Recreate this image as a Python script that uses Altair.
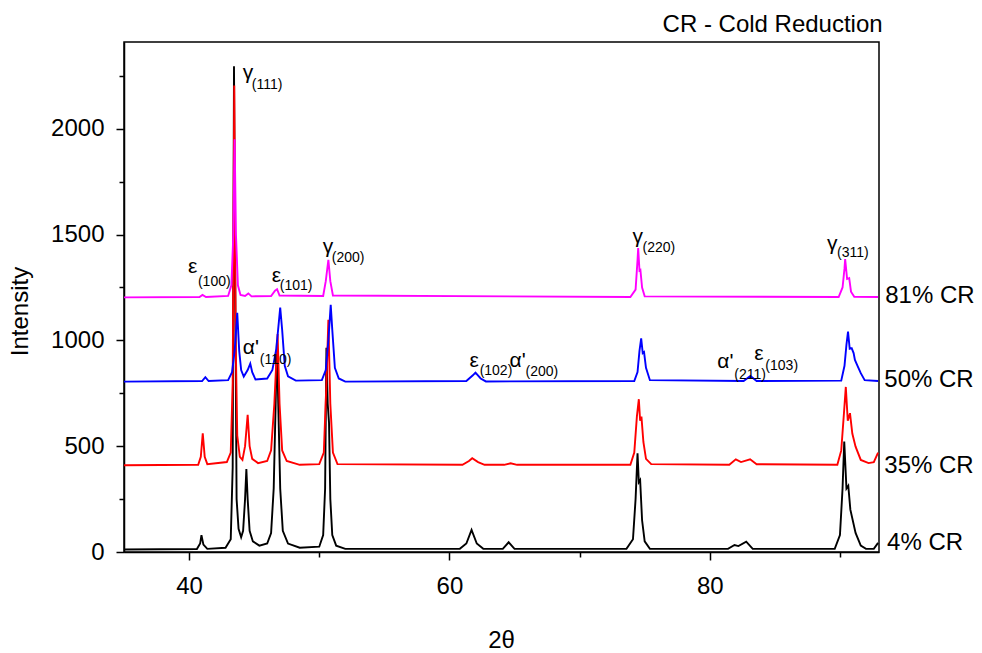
import altair as alt
import pandas as pd

# ---------------- data ----------------
# 4% CR (black)
tt_4 = [35.0, 40.6, 40.85, 40.95, 41.1, 41.4, 42.8, 43.2, 43.35, 43.45, 43.55, 43.65, 43.8, 44.0,
        44.15, 44.3, 44.4, 44.5, 44.65, 44.9, 45.4, 46.0, 46.3, 46.5, 46.65, 46.75, 46.85, 47.0,
        47.2, 47.6, 48.5, 50.0, 50.3, 50.45, 50.55, 50.65, 50.75, 50.85, 51.0, 51.3, 52.0, 60.8,
        61.3, 61.7, 62.1, 62.6, 64.1, 64.55, 65.0, 73.6, 74.1, 74.3, 74.45, 74.55, 74.65, 74.8,
        75.0, 75.4, 81.4, 81.9, 82.2, 82.8, 83.3, 89.6, 90.0, 90.2, 90.33, 90.5, 90.64, 90.8,
        91.2, 91.6, 92.0, 92.6, 92.93]
I_4 = [12, 14, 40, 80, 35, 15, 20, 60, 400, 2295, 1200, 250, 110, 70,
       100, 250, 392, 250, 100, 50, 30, 40, 90, 300, 700, 1000, 700, 300,
       100, 40, 20, 25, 80, 300, 965, 700, 610, 250, 80, 30, 15, 15,
       40, 104, 40, 15, 15, 46, 15, 15, 60, 250, 467, 330, 340, 150,
       50, 15, 15, 33, 28, 49, 15, 15, 80, 300, 522, 300, 313, 200,
       90, 30, 15, 15, 43]

# 35% CR (red)
tt_35 = [35.0, 40.7, 40.9, 41.05, 41.2, 41.4, 42.9, 43.2, 43.35, 43.47, 43.58, 43.7, 43.9, 44.1,
         44.3, 44.5, 44.65, 44.85, 45.3, 46.0, 46.3, 46.55, 46.8, 46.95, 47.15, 47.5, 48.5, 50.0,
         50.35, 50.55, 50.7, 50.85, 51.05, 51.4, 61.0, 61.5, 61.75, 62.2, 62.7, 64.2, 64.7, 65.2,
         73.9, 74.2, 74.4, 74.55, 74.65, 74.75, 74.9, 75.1, 75.5, 81.5, 82.0, 82.4, 83.1, 83.6,
         89.8, 90.1, 90.3, 90.45, 90.6, 90.77, 90.95, 91.2, 91.6, 92.2, 92.6, 92.93]
I_35 = [410, 412, 450, 561, 450, 415, 425, 470, 800, 2205, 1000, 550, 450, 435,
        500, 648, 500, 440, 420, 430, 480, 700, 1030, 700, 480, 430, 412, 415,
        470, 800, 1097, 700, 470, 415, 412, 430, 443, 425, 412, 412, 419, 412,
        412, 470, 640, 722, 620, 640, 520, 440, 415, 412, 438, 425, 438, 415,
        412, 480, 650, 780, 620, 656, 560, 498, 435, 420, 425, 470]

# 50% CR (blue)
tt_50 = [35.0, 41.0, 41.25, 41.5, 43.0, 43.3, 43.5, 43.7, 43.85, 44.0, 44.2, 44.5, 44.7, 44.85,
         45.1, 46.0, 46.4, 46.7, 47.0, 47.15, 47.35, 47.6, 48.2, 50.2, 50.5, 50.7, 50.88, 51.0,
         51.2, 51.5, 52.0, 61.3, 61.8, 62.0, 62.4, 62.8, 74.2, 74.45, 74.6, 74.73, 74.85, 74.95,
         75.1, 75.4, 82.6, 83.12, 83.6, 90.1, 90.35, 90.5, 90.62, 90.75, 90.9, 91.05, 91.15,
         91.35, 91.6, 91.9, 92.93]
I_50 = [805, 808, 826, 808, 812, 850, 950, 1130, 950, 860, 829, 860, 890, 850,
        815, 820, 860, 960, 1155, 1050, 880, 830, 810, 812, 860, 1000, 1168, 1050,
        870, 820, 805, 808, 835, 848, 820, 806, 808, 850, 950, 1010, 940, 945,
        870, 812, 808, 832, 808, 810, 880, 980, 1042, 960, 963, 940, 908,
        880, 845, 812, 808]

# 81% CR (magenta)
tt_81 = [35.0, 40.8, 41.03, 41.3, 43.0, 43.25, 43.4, 43.5, 43.6, 43.75, 43.95, 44.3, 44.55, 44.8,
         46.3, 46.6, 46.76, 46.95, 50.3, 50.5, 50.7, 50.85, 51.05, 73.9, 74.3, 74.45, 74.5, 74.6,
         74.67, 74.8, 75.0, 89.9, 90.2, 90.35, 90.4, 90.55, 90.71, 90.85, 91.1, 92.93]
I_81 = [1203, 1205, 1215, 1205, 1210, 1260, 1500, 1950, 1500, 1260, 1215, 1210, 1222, 1208,
        1210, 1235, 1242, 1212, 1210, 1280, 1381, 1280, 1212, 1205, 1240, 1380, 1436, 1330,
        1333, 1250, 1208, 1205, 1250, 1340, 1384, 1290, 1294, 1230, 1206, 1205]

# peak annotations: symbol, subscript, positions (2theta, intensity)
ann_sym = ["γ", "ε", "ε", "γ", "α'", "ε", "α'", "α'", "ε", "γ", "γ"]
ann_sub = ["(111)", "(100)", "(101)", "(200)", "(110)", "(102)", "(200)", "(211)", "(103)", "(220)", "(311)"]
ann_sym_x = [44.13, 39.91, 46.35, 50.27, 44.13, 61.55, 64.62, 80.58, 83.42, 74.06, 89.01]
ann_sym_y = [2235, 1318, 1276, 1413, 936, 874, 874, 869, 907, 1460, 1429]
ann_sub_x = [44.82, 40.68, 46.97, 50.96, 45.43, 62.32, 65.85, 81.88, 84.27, 74.83, 89.78]
ann_sub_y = [2188, 1257, 1238, 1370, 888, 836, 832, 818, 860, 1418, 1394]

# series labels at right
lab_text = ["81% CR", "50% CR", "35% CR", "4% CR"]
lab_x = [93.48, 93.41, 93.41, 93.62]
lab_y = [1177, 780, 373, 9]

title_text = ["CR - Cold Reduction"]
title_x = [93.28]
title_y = [2459]

series_colors = ["#000000", "#ff0000", "#0000ff", "#ff00ff"]

# ---------------- chart ----------------
FONT = "Liberation Sans"
xs = alt.Scale(domain=[35, 93], nice=False, zero=False)
ys = alt.Scale(domain=[0, 2410], nice=False, zero=False)

x_major = alt.Axis(values=[40, 60, 80], orient="bottom", tickSize=8, tickWidth=1.5, tickColor="black",
                   domainColor="black", domainWidth=1.5, labelFont=FONT, labelFontSize=24,
                   labelColor="black", labelPadding=14, grid=False, title="2θ", format="d",
                   titleFont=FONT, titleFontSize=24, titleFontWeight="normal", titleColor="black",
                   titleBaseline="alphabetic", titleY=95, titleX=377, titleAlign="center")
y_major = alt.Axis(values=[0, 500, 1000, 1500, 2000], orient="left", tickSize=8, tickWidth=1.5,
                   tickColor="black", domainColor="black", domainWidth=1.5, labelFont=FONT,
                   labelFontSize=24, labelColor="black", labelPadding=12, grid=False, format="d",
                   title="Intensity", titleFont=FONT, titleFontSize=24, titleFontWeight="normal",
                   titleColor="black", titleAngle=270, titleBaseline="alphabetic",
                   titleX=-97, titleY=269, titleAlign="center")
x_minor = alt.Axis(values=[50, 70, 90], orient="bottom", tickSize=5, tickWidth=1.5, tickColor="black",
                   labels=False, domain=False, grid=False, title="")
y_minor = alt.Axis(values=[250, 750, 1250, 1750, 2250], orient="left", tickSize=5, tickWidth=1.5,
                   tickColor="black", labels=False, domain=False, grid=False, title="")


def series_df(tt, ii):
    return pd.DataFrame({"tt": tt, "I": ii, "idx": list(range(len(tt)))})


def line_layer(tt, ii, color, xa=None, ya=None):
    return alt.Chart(series_df(tt, ii)).mark_line(color=color, strokeWidth=1.9).encode(
        x=alt.X("tt:Q", scale=xs, axis=xa),
        y=alt.Y("I:Q", scale=ys, axis=ya),
        order="idx:Q",
    )


l4 = line_layer(tt_4, I_4, series_colors[0], x_major, y_major)
l35 = line_layer(tt_35, I_35, series_colors[1], x_minor, y_minor)
l50 = line_layer(tt_50, I_50, series_colors[2])
l81 = line_layer(tt_81, I_81, series_colors[3])

ann_df = pd.DataFrame({"sym": ann_sym, "sub": ann_sub, "sx": ann_sym_x, "sy": ann_sym_y,
                       "bx": ann_sub_x, "by": ann_sub_y})
sym_layer = alt.Chart(ann_df).mark_text(font=FONT, fontSize=21, align="left", baseline="alphabetic",
                                        color="black").encode(
    x=alt.X("sx:Q", scale=xs, axis=None), y=alt.Y("sy:Q", scale=ys, axis=None), text="sym:N")
sub_layer = alt.Chart(ann_df).mark_text(font=FONT, fontSize=14, align="left", baseline="alphabetic",
                                        color="black").encode(
    x=alt.X("bx:Q", scale=xs, axis=None), y=alt.Y("by:Q", scale=ys, axis=None), text="sub:N")

lab_df = pd.DataFrame({"t": lab_text, "x": lab_x, "y": lab_y})
lab_layer = alt.Chart(lab_df).mark_text(font=FONT, fontSize=24, align="left", baseline="alphabetic",
                                        color="black").encode(
    x=alt.X("x:Q", scale=xs, axis=None), y=alt.Y("y:Q", scale=ys, axis=None), text="t:N")

title_df = pd.DataFrame({"t": title_text, "x": title_x, "y": title_y})
title_layer = alt.Chart(title_df).mark_text(font=FONT, fontSize=24, align="right", baseline="alphabetic",
                                            color="black").encode(
    x=alt.X("x:Q", scale=xs, axis=None), y=alt.Y("y:Q", scale=ys, axis=None), text="t:N")

chart = alt.layer(l4, l35, l50, l81, sym_layer, sub_layer, lab_layer, title_layer).resolve_axis(
    x="independent", y="independent"
).properties(
    width=755, height=510,
    autosize=alt.AutoSizeParams(type="none"),
    padding={"left": 124, "top": 42, "right": 103, "bottom": 101},
    background="white",
).configure_view(stroke="black", strokeWidth=1.5).configure_axis(grid=False)

chart.save("out.html", embed_options={"renderer": "svg", "actions": False})
